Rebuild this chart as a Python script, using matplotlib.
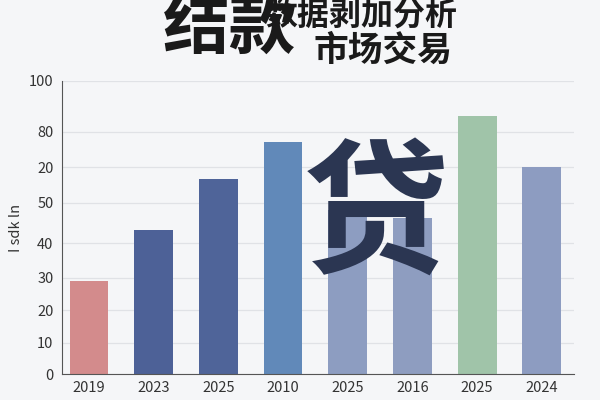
import matplotlib.pyplot as plt

plt.rcParams['font.family'] = ['Noto Sans CJK SC', 'DejaVu Sans']

# 数据
years = ['2019', '2023', '2025', '2010', '2025', '2016', '2025', '2024']
values = [31.7, 49, 66.7, 79.1, 56, 53.3, 88, 70.8]
colors = ['#d38b8c', '#4d6197', '#4f6499', '#6189b9', '#8d9dc1',
          '#8e9dc0', '#a0c4a9', '#8d9cc1']
# y轴刻度（原图刻度不均匀）
tick_pos = [0, 10.6, 21.8, 32.8, 44.7, 58.4, 70.6, 82.6, 100]
tick_labels = ['0', '10', '20', '30', '40', '50', '20', '80', '100']

fig = plt.figure(figsize=(6, 4), dpi=100, facecolor='#f5f6f8')
ax = fig.add_axes([0.103, 0.065, 0.854, 0.7325])
ax.set_facecolor('#f5f6f8')

x = list(range(len(years)))
ax.bar(x, values, width=0.6, color=colors, zorder=2)

ax.set_xlim(-0.42, 7.5)
ax.set_ylim(0, 100)
ax.set_yticks(tick_pos)
ax.set_yticklabels(tick_labels)
ax.set_xticks(x)
ax.set_xticklabels(years)
ax.tick_params(axis='both', labelsize=10.5, colors='#333333', length=0, pad=6)
ax.tick_params(axis='x', pad=5)
ax.grid(axis='y', color='#e0e2e6', linewidth=0.9, zorder=0)

for s in ['top', 'right']:
    ax.spines[s].set_visible(False)
ax.spines['left'].set_color('#555555')
ax.spines['bottom'].set_color('#555555')

ax.set_ylabel('I sdk ln', fontsize=10.5, color='#333333', labelpad=4)

# 标题文字
fig.text(230 / 600, 1 - 29 / 400, '结款', fontsize=48, weight='heavy',
         color='#1a1a1a', ha='center', va='center')
fig.text(361 / 600, 1 - 16 / 400, '数据剥加分析', fontsize=23, weight='heavy',
         color='#1a1a1a', ha='center', va='center')
fig.text(383 / 600, 1 - 50 / 400, '市场交易', fontsize=25, weight='heavy',
         color='#1a1a1a', ha='center', va='center')
fig.text(376 / 600, 1 - 219 / 400, '贷', fontsize=105, weight='heavy',
         color='#2b3652', ha='center', va='center', zorder=5)

plt.savefig('out.png', facecolor=fig.get_facecolor())
